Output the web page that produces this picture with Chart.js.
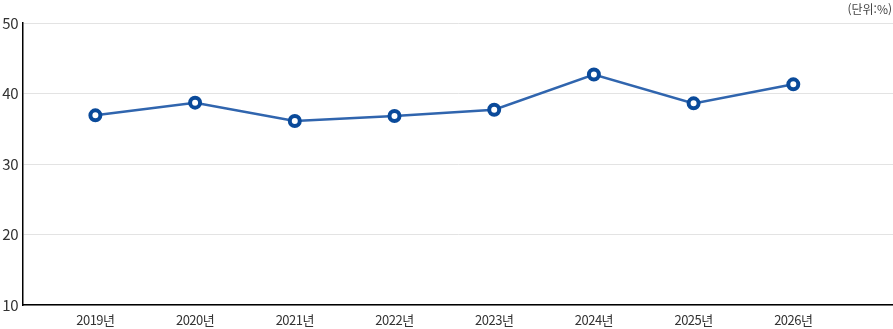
<!DOCTYPE html>
<html lang="ko">
<head>
<meta charset="utf-8">
<script src="https://cdn.jsdelivr.net/npm/chart.js@4/dist/chart.umd.min.js"></script>
<style>
  html, body { margin: 0; padding: 0; background: #fff; }
  .wrap { position: relative; width: 893px; height: 329px; }
  .unit {
    position: absolute; right: 1px; top: 0px;
    font: 12px "Noto Sans CJK KR", "Noto Sans", sans-serif; color: #444;
  }
</style>
</head>
<body>
<div class="wrap">
  <canvas id="chart" width="893" height="329"></canvas>
  <div class="unit">(단위:%)</div>
</div>
<script>
// data
const years = [2019, 2020, 2021, 2022, 2023, 2024, 2025, 2026];
const xLabels = ['2019년', '2020년', '2021년', '2022년', '2023년', '2024년', '2025년', '2026년'];
const rates = [36.9, 38.7, 36.1, 36.8, 37.7, 42.7, 38.6, 41.3];
const yTicks = [10, 20, 30, 40, 50];

const font = '"Noto Sans CJK KR", "Noto Sans", sans-serif';

// slightly tighter text, like the reference labels
const tightText = {
  id: 'tightText',
  beforeDraw(chart) { chart.ctx.letterSpacing = '-0.5px'; },
  afterDraw(chart) { chart.ctx.letterSpacing = '0px'; }
};

const ctx = document.getElementById('chart').getContext('2d');
const chart = new Chart(ctx, {
  type: 'line',
  data: {
    datasets: [{
      data: years.map((y, i) => ({ x: y, y: rates[i] })),
      borderColor: '#3065ae',
      borderWidth: 2.5,
      tension: 0,
      pointRadius: 5,
      pointHoverRadius: 5,
      pointBorderWidth: 4,
      pointBorderColor: '#0a4a9a',
      pointBackgroundColor: '#fff'
    }]
  },
  plugins: [tightText],
  options: {
    responsive: false,
    animation: false,
    layout: { autoPadding: false, padding: { top: 23, right: 0, bottom: 0, left: 0 } },
    plugins: { legend: { display: false }, tooltip: { enabled: false } },
    scales: {
      x: {
        type: 'linear',
        min: 2018.274,
        max: 2027,
        afterBuildTicks: (axis) => { axis.ticks = years.map(v => ({ value: v })); },
        afterFit: (axis) => { axis.height = 24; },
        ticks: {
          autoSkip: false,
          maxRotation: 0,
          padding: 7,
          color: '#333',
          font: { family: font, size: 13 },
          callback: (v) => xLabels[years.indexOf(v)]
        },
        grid: { display: false, drawTicks: false },
        border: { color: '#000', width: 1.5 }
      },
      y: {
        min: 10,
        max: 50,
        afterBuildTicks: (axis) => { axis.ticks = yTicks.map(v => ({ value: v })); },
        afterFit: (axis) => { axis.width = 23; },
        ticks: {
          padding: 5,
          color: '#333',
          font: { family: font, size: 15 }
        },
        grid: { color: '#e3e3e3', drawTicks: false },
        border: { color: '#000', width: 1.5 }
      }
    }
  }
});
</script>
</body>
</html>
